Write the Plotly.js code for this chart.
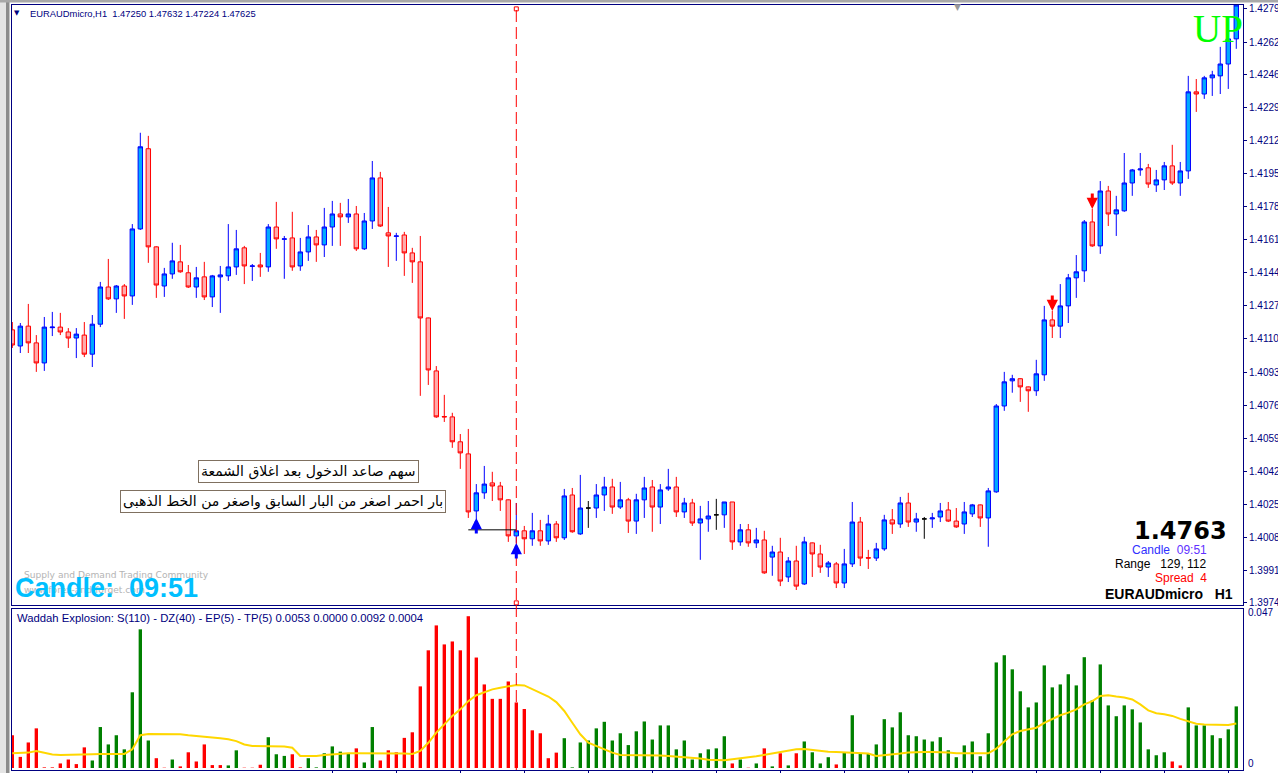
<!DOCTYPE html>
<html><head><meta charset="utf-8">
<script src="https://cdn.plot.ly/plotly-3.0.1.min.js"></script>
<style>html,body{margin:0;padding:0;background:#fff;overflow:hidden}#chart{width:1278px;height:773px}</style>
</head><body><div id="chart"></div><script>
// ---------- DATA ----------
const symbolName = "EURAUDmicro,H1";
const headerOHLC = "1.47250 1.47632 1.47224 1.47625";

const candleOpen = [
1.41147,1.41064,1.41166,1.41080,1.40977,1.41158,1.41161,1.41136,1.41105,1.41120,
1.41022,1.41176,1.41367,1.41306,1.41372,1.41321,1.41665,1.42077,1.41573,1.41372,
1.41434,1.41496,1.41440,1.41367,1.41419,1.41316,1.41419,1.41424,1.41470,1.41568,
1.41473,1.41480,1.41470,1.41675,1.41612,1.41619,1.41475,1.41547,1.41624,1.41583,
1.41675,1.41742,1.41727,1.41742,1.41563,1.41706,1.41927,1.41645,1.41627,1.41634,
1.41542,1.41496,1.41208,1.40936,1.40702,1.40700,1.40572,1.40510,1.40217,1.40310,
1.40361,1.40345,1.40274,1.40089,1.40115,1.40074,1.40115,1.40063,1.40150,1.40079,
1.40299,1.40099,1.40232,1.40232,1.40299,1.40340,1.40237,1.40274,1.40165,1.40274,
1.40340,1.40237,1.40330,1.40340,1.40212,1.40258,1.40155,1.40176,1.40197,1.40197,
1.40263,1.40058,1.40120,1.40053,1.40068,1.39980,1.40006,1.39878,1.39960,1.39842,
1.40053,1.39996,1.39929,1.39945,1.39847,1.39945,1.40160,1.39977,1.39975,1.40022,
1.40171,1.40150,1.40258,1.40160,1.40176,1.40176,1.40186,1.40222,1.40165,1.40150,
1.40202,1.40248,1.40181,1.40315,1.40756,1.40885,1.40896,1.40854,1.40834,1.40916,
1.41198,1.41166,1.41270,1.41414,1.41450,1.41701,1.41578,1.41860,1.41742,1.41758,
1.41901,1.41968,1.41979,1.41891,1.41917,1.41989,1.41901,1.41963,1.42369,1.42358,
1.42441,1.42451,1.42512,1.42641];
const candleHigh = [
1.41187,1.41182,1.41280,1.41120,1.41213,1.41239,1.41234,1.41156,1.41156,1.41187,
1.41223,1.41393,1.41511,1.41377,1.41382,1.41690,1.42159,1.42143,1.41576,1.41465,
1.41594,1.41583,1.41480,1.41470,1.41496,1.41429,1.41475,1.41690,1.41660,1.41578,
1.41485,1.41542,1.41690,1.41804,1.41629,1.41753,1.41619,1.41685,1.41660,1.41773,
1.41809,1.41799,1.41819,1.41783,1.41747,1.42014,1.41958,1.41778,1.41645,1.41650,
1.41568,1.41629,1.41210,1.40961,1.40813,1.40721,1.40612,1.40638,1.40355,1.40448,
1.40418,1.40366,1.40276,1.40258,1.40140,1.40207,1.40171,1.40197,1.40165,1.40330,
1.40335,1.40402,1.40268,1.40355,1.40392,1.40382,1.40366,1.40284,1.40305,1.40392,
1.40376,1.40355,1.40433,1.40392,1.40284,1.40279,1.40243,1.40268,1.40279,1.40263,
1.40263,1.40150,1.40150,1.40130,1.40115,1.40038,1.40079,1.39980,1.40038,1.40084,
1.40055,1.40043,1.39960,1.39955,1.40022,1.40263,1.40186,1.40017,1.40053,1.40197,
1.40227,1.40289,1.40310,1.40207,1.40186,1.40207,1.40258,1.40263,1.40232,1.40263,
1.40253,1.40250,1.40335,1.40766,1.40931,1.40916,1.40898,1.40856,1.40993,1.41270,
1.41244,1.41382,1.41434,1.41531,1.41711,1.41768,1.41911,1.41886,1.41835,1.42055,
1.41973,1.42055,1.41999,1.41968,1.42009,1.42097,1.42009,1.42451,1.42435,1.42451,
1.42477,1.42600,1.42656,1.42830];
const candleLow = [
1.41054,1.41028,1.41028,1.40931,1.40936,1.41115,1.41120,1.41054,1.41002,1.41007,
1.40956,1.41161,1.41300,1.41234,1.41203,1.41275,1.41660,1.41491,1.41311,1.41316,
1.41409,1.41440,1.41362,1.41311,1.41300,1.41264,1.41234,1.41398,1.41429,1.41382,
1.41398,1.41419,1.41445,1.41563,1.41409,1.41450,1.41450,1.41501,1.41496,1.41521,
1.41578,1.41578,1.41696,1.41552,1.41557,1.41665,1.41675,1.41470,1.41501,1.41424,
1.41388,1.40808,1.40864,1.40695,1.40674,1.40541,1.40433,1.40181,1.40176,1.40279,
1.40268,1.40217,1.40058,1.40053,1.39996,1.40038,1.40038,1.40043,1.40058,1.40068,
1.40105,1.40094,1.40130,1.40181,1.40217,1.40202,1.40227,1.40104,1.40099,1.40181,
1.40110,1.40150,1.40320,1.40186,1.40181,1.40140,1.39966,1.40110,1.40120,1.40130,
1.40017,1.40038,1.40033,1.40027,1.39894,1.39884,1.39831,1.39852,1.39811,1.39837,
1.39878,1.39899,1.39878,1.39821,1.39821,1.39929,1.39934,1.39919,1.39960,1.40012,
1.40099,1.40130,1.40135,1.40110,1.40074,1.40130,1.40160,1.40160,1.40130,1.40099,
1.40186,1.40135,1.40033,1.40310,1.40731,1.40824,1.40777,1.40726,1.40808,1.40885,
1.41105,1.41105,1.41182,1.41311,1.41393,1.41573,1.41537,1.41680,1.41629,1.41753,
1.41835,1.41938,1.41876,1.41855,1.41865,1.41891,1.41835,1.41922,1.42266,1.42333,
1.42348,1.42358,1.42384,1.42590];
const candleClose = [
1.41069,1.41166,1.41080,1.40977,1.41161,1.41161,1.41136,1.41105,1.41125,1.41022,
1.41176,1.41367,1.41306,1.41372,1.41321,1.41665,1.42087,1.41573,1.41377,1.41434,
1.41501,1.41445,1.41367,1.41414,1.41316,1.41424,1.41429,1.41470,1.41563,1.41475,
1.41475,1.41470,1.41675,1.41614,1.41614,1.41470,1.41547,1.41624,1.41583,1.41675,
1.41742,1.41727,1.41742,1.41563,1.41706,1.41927,1.41680,1.41629,1.41629,1.41542,
1.41496,1.41208,1.40941,1.40700,1.40700,1.40572,1.40515,1.40212,1.40310,1.40355,
1.40345,1.40274,1.40089,1.40115,1.40074,1.40115,1.40063,1.40150,1.40079,1.40294,
1.40110,1.40232,1.40232,1.40299,1.40340,1.40237,1.40274,1.40165,1.40274,1.40335,
1.40237,1.40325,1.40340,1.40212,1.40258,1.40155,1.40176,1.40191,1.40197,1.40263,
1.40058,1.40120,1.40053,1.40068,1.39899,1.40006,1.39857,1.39960,1.39831,1.40058,
1.39996,1.39929,1.39950,1.39847,1.39945,1.40160,1.39975,1.39975,1.40022,1.40171,
1.40150,1.40258,1.40160,1.40176,1.40176,1.40181,1.40217,1.40165,1.40135,1.40212,
1.40248,1.40181,1.40320,1.40756,1.40880,1.40896,1.40854,1.40834,1.40921,1.41198,
1.41166,1.41270,1.41414,1.41445,1.41701,1.41578,1.41860,1.41742,1.41763,1.41901,
1.41968,1.41973,1.41896,1.41917,1.41989,1.41901,1.41963,1.42369,1.42358,1.42441,
1.42456,1.42512,1.42641,1.42815];
const dojiBars = [72, 88, 114];

const priceLabels = ["1.42795","1.42625","1.42460","1.42290","1.42120","1.41950","1.41780","1.41610","1.41440","1.41270",
"1.41100","1.40930","1.40760","1.40590","1.40420","1.40250","1.40080","1.39910","1.39745"];
const timeTickBars = [40,48,56,64,72,80,88,96,104,112,120,128,136,144,152];

// arrow signals: bar index and price of the arrow tip
const buyArrowBars = [58, 63];
const buyArrowTip = [1.40181, 1.40053];
const sellArrowBars = [130, 135];
const sellArrowTip = [1.41244, 1.41768];
const entryLineBars = [57, 63];
const entryLinePrice = [1.40120, 1.40120];
const markerBar = 63;

const wadValues = [
0.0100,0.0034,0.0078,0.0121,0.0002,0.0002,0.0014,0.0026,0.0012,0.0063,
0.0023,0.0125,0.0072,0.0100,0.0057,0.0231,0.0423,0.0084,0.0030,0.0001,
0.0026,0.0005,0.0048,0.0020,0.0072,0.0009,0.0009,0.0008,0.0054,0.0001,
0.0001,0.0010,0.0094,0.0042,0.0037,0.0042,0.0002,0.0030,0.0002,0.0045,
0.0066,0.0050,0.0045,0.0060,0.0017,0.0125,0.0023,0.0054,0.0048,0.0092,
0.0109,0.0249,0.0359,0.0435,0.0377,0.0386,0.0359,0.0463,0.0337,0.0255,
0.0211,0.0211,0.0264,0.0200,0.0180,0.0115,0.0106,0.0030,0.0047,0.0091,
0.0002,0.0078,0.0084,0.0121,0.0141,0.0084,0.0106,0.0070,0.0112,0.0142,
0.0087,0.0130,0.0130,0.0057,0.0084,0.0026,0.0045,0.0057,0.0060,0.0097,
0.0014,0.0026,0.0001,0.0014,0.0060,0.0005,0.0045,0.0008,0.0045,0.0081,
0.0048,0.0014,0.0033,0.0011,0.0048,0.0161,0.0045,0.0045,0.0072,0.0149,
0.0124,0.0170,0.0100,0.0097,0.0087,0.0081,0.0094,0.0054,0.0033,0.0069,
0.0081,0.0036,0.0106,0.0322,0.0344,0.0301,0.0234,0.0185,0.0200,0.0313,
0.0246,0.0255,0.0286,0.0252,0.0338,0.0206,0.0316,0.0191,0.0158,0.0191,
0.0179,0.0139,0.0057,0.0039,0.0048,0.0020,0.0008,0.0185,0.0130,0.0130,
0.0100,0.0091,0.0118,0.0188];
const wadTrend = [
"r","r","r","r","r","r","r","r","r","r",
"g","g","g","g","g","g","g","g","r","r",
"g","r","r","r","r","r","r","g","g","r",
"r","r","g","g","g","r","r","g","g","g",
"g","g","g","r","g","g","r","r","r","r",
"r","r","r","r","r","r","r","r","r","r",
"r","r","r","r","r","r","r","r","r","g",
"g","g","g","g","g","g","g","g","g","g",
"g","g","g","g","g","g","g","g","g","g",
"r","g","r","g","r","g","r","g","r","g",
"g","g","g","r","g","g","g","g","g","g",
"g","g","g","g","g","g","g","g","g","g",
"g","g","g","g","g","g","g","g","g","g",
"g","g","g","g","g","g","g","g","g","g",
"g","g","g","g","g","r","r","g","g","g",
"g","g","g","g"];
const explosionLine = [
0.0045,0.0045,0.0047,0.0052,0.0047,0.0041,0.0040,0.0040,0.0040,0.0041,
0.0042,0.0043,0.0043,0.0043,0.0043,0.0057,0.0100,0.0104,0.0104,0.0104,
0.0104,0.0103,0.0100,0.0097,0.0095,0.0093,0.0091,0.0088,0.0082,0.0072,
0.0067,0.0067,0.0067,0.0067,0.0066,0.0062,0.0037,0.0037,0.0037,0.0040,
0.0042,0.0044,0.0045,0.0045,0.0045,0.0046,0.0046,0.0046,0.0045,0.0044,
0.0043,0.0052,0.0077,0.0108,0.0133,0.0159,0.0179,0.0204,0.0222,0.0232,
0.0240,0.0245,0.0250,0.0253,0.0252,0.0240,0.0228,0.0218,0.0201,0.0174,
0.0138,0.0103,0.0077,0.0067,0.0057,0.0047,0.0040,0.0040,0.0040,0.0039,
0.0038,0.0038,0.0037,0.0035,0.0034,0.0032,0.0029,0.0025,0.0024,0.0024,
0.0027,0.0029,0.0033,0.0036,0.0040,0.0045,0.0050,0.0054,0.0057,0.0058,
0.0055,0.0052,0.0050,0.0049,0.0048,0.0047,0.0046,0.0044,0.0037,0.0039,
0.0040,0.0044,0.0047,0.0049,0.0049,0.0049,0.0049,0.0047,0.0045,0.0045,
0.0045,0.0045,0.0045,0.0059,0.0082,0.0103,0.0113,0.0118,0.0123,0.0138,
0.0150,0.0161,0.0169,0.0179,0.0194,0.0204,0.0220,0.0222,0.0218,0.0215,
0.0209,0.0194,0.0176,0.0167,0.0164,0.0159,0.0150,0.0143,0.0135,0.0133,
0.0133,0.0131,0.0131,0.0136];
const wadAxisLabels = ["0", "0.047"];

// ---------- CHART ----------
const W = 1278, H = 773;
const px = v => v / W, py = v => 1 - v / H;
const NAVY = '#000080';
const bars = candleOpen.map((_, i) => i);
const mainIdx = bars.filter(i => !dojiBars.includes(i));
const pick = (arr, idx) => idx.map(i => arr[i]);

const traces = [
  {type:'candlestick', x:mainIdx, open:pick(candleOpen,mainIdx), high:pick(candleHigh,mainIdx),
   low:pick(candleLow,mainIdx), close:pick(candleClose,mainIdx), xaxis:'x', yaxis:'y',
   increasing:{line:{color:'#0000ff', width:1}, fillcolor:'#00aaff'},
   decreasing:{line:{color:'#ff0000', width:1}, fillcolor:'#ffaaaa'},
   whiskerwidth:0, hoverinfo:'none', showlegend:false},
  {type:'candlestick', x:dojiBars, open:pick(candleOpen,dojiBars), high:pick(candleHigh,dojiBars),
   low:pick(candleLow,dojiBars), close:pick(candleClose,dojiBars), xaxis:'x', yaxis:'y',
   increasing:{line:{color:'#000000', width:1}, fillcolor:'#000000'},
   decreasing:{line:{color:'#000000', width:1}, fillcolor:'#000000'},
   whiskerwidth:0, hoverinfo:'none', showlegend:false},
  {type:'scatter', mode:'lines', x:entryLineBars, y:entryLinePrice, xaxis:'x', yaxis:'y',
   line:{color:'#000000', width:1}, hoverinfo:'none', showlegend:false},
  {type:'scatter', mode:'markers', x:[markerBar, markerBar],
   y:[Number(priceLabels[0]), Number(priceLabels[priceLabels.length-1])],
   marker:{symbol:'square-open', size:4, color:'#ff0000', line:{width:1, color:'#ff0000'}},
   xaxis:'x', yaxis:'y', hoverinfo:'none', showlegend:false, cliponaxis:false},
  {type:'bar', x:bars, y:wadValues, width:0.42, xaxis:'x2', yaxis:'y2',
   marker:{color:wadTrend.map(t => t === 'g' ? '#008000' : '#ff0000'), line:{width:0}},
   hoverinfo:'none', showlegend:false},
  {type:'scatter', mode:'lines', x:bars, y:explosionLine, xaxis:'x2', yaxis:'y2',
   line:{color:'#ffd700', width:2}, hoverinfo:'none', showlegend:false}
];

const xDomain = [px(12), px(1243)];
const xRange = [-0.04, 153.84];
const axisFont = {family:'Liberation Sans, Arial, sans-serif', size:10, color:NAVY};

function note(text, x, y, opts) {
  return Object.assign({text:text, x:px(x), y:py(y), xref:'paper', yref:'paper', showarrow:false,
    xanchor:'left', yanchor:'middle', font:{family:'Liberation Sans, Arial, sans-serif', size:10, color:NAVY}}, opts || {});
}
const nb = s => s.replace(/ /g, '\u00a0');

function arrowNote(bar, price, color, dir) {
  return {x:bar, y:price, xref:'x', yref:'y', text:'', showarrow:true, ax:0, ay:dir * 17,
    arrowhead:2, arrowsize:0.75, arrowwidth:3, arrowcolor:color, standoff:0, startstandoff:0};
}

const annotations = [
  note('\u25BC', 17, 13, {xanchor:'center', font:{family:'DejaVu Sans', size:7, color:NAVY}}),
  note(nb(symbolName + '  ' + headerOHLC), 28, 13, {font:{family:'Liberation Sans, Arial, sans-serif', size:9.4, color:NAVY}}),
  note('\u25BC', 957, 7, {xanchor:'center', font:{family:'DejaVu Sans', size:9, color:'#9a9a9a'}}),
  note('Waddah Explosion: S(110) - DZ(40) - EP(5) - TP(5) 0.0053 0.0000 0.0092 0.0004', 15, 618,
    {font:{family:'Liberation Sans, Arial, sans-serif', size:11.3, color:NAVY}}),
  note('UP', 1191, 28, {font:{family:'Liberation Serif, Times New Roman, serif', size:39, color:'#00ff00'}}),
  note('سهم صاعد الدخول بعد اغلاق الشمعة', 308, 471, {xanchor:'center', bgcolor:'#ffffff',
    bordercolor:'#7f7060', borderwidth:1, borderpad:2, font:{family:'DejaVu Sans', size:14, color:'#000000'}}),
  note('بار احمر اصغر من البار السابق واصغر من الخط الذهبى', 283, 501, {xanchor:'center', bgcolor:'#ffffff',
    bordercolor:'#7f7060', borderwidth:1, borderpad:2, font:{family:'DejaVu Sans', size:14, color:'#000000'}}),
  note('Supply and Demand Trading Community', 22, 575, {font:{family:'DejaVu Sans', size:9.1, color:'#b4b4b4'}}),
  note('www.forex-and-forget.com', 22, 590, {font:{family:'DejaVu Sans', size:9.1, color:'#b4b4b4'}}),
  note('<b>' + nb('Candle:  09:51') + '</b>', 13, 588, {font:{family:'Liberation Sans, Arial, sans-serif', size:27, color:'#00bfff'}}),
  note('<b>1.4763</b>', 1229, 531, {xanchor:'right', font:{family:'DejaVu Sans', size:24, color:'#000000'}}),
  note('<span style="color:#3030ff">Candle</span>\u00a0\u00a0<span style="color:#6030ff">09:51</span>', 1209, 550,
    {xanchor:'right', font:{family:'Liberation Sans, Arial, sans-serif', size:12, color:'#3030ff'}}),
  note(nb('Range   129, 112'), 1209, 564, {xanchor:'right', font:{family:'Liberation Sans, Arial, sans-serif', size:12, color:'#000000'}}),
  note(nb('Spread  4'), 1209, 578, {xanchor:'right', font:{family:'Liberation Sans, Arial, sans-serif', size:12, color:'#ff0000'}}),
  note('<b>' + nb('EURAUDmicro   H1') + '</b>', 1235, 594, {xanchor:'right', font:{family:'Liberation Sans, Arial, sans-serif', size:14, color:'#000000'}})
];
buyArrowBars.forEach((b, k) => annotations.push(arrowNote(b, buyArrowTip[k], '#0000ff', 1)));
sellArrowBars.forEach((b, k) => annotations.push(arrowNote(b, sellArrowTip[k], '#ff0000', -1)));
wadAxisLabels.forEach(l => annotations.push({text:l, x:px(1246), xref:'paper', y:Number(l), yref:'y2',
  yshift:(Number(l) === 0 ? 5 : 1), showarrow:false, xanchor:'left', yanchor:'middle', font:axisFont}));

const layout = {
  width:W, height:H, margin:{l:0, r:0, t:0, b:0, pad:0},
  paper_bgcolor:'#ffffff', plot_bgcolor:'#ffffff', showlegend:false,
  boxgap:0.45, boxgroupgap:0,
  xaxis:{domain:xDomain, range:xRange, anchor:'y', showticklabels:false, showgrid:false, zeroline:false,
    showline:true, mirror:true, linecolor:NAVY, linewidth:1, ticks:'', rangeslider:{visible:false}, fixedrange:true},
  yaxis:{domain:[1-605/H, 1-5/H], range:[1.39734, 1.42815], side:'right', anchor:'x',
    tickvals:priceLabels.map(Number), ticktext:priceLabels, ticks:'outside', ticklen:3, tickcolor:NAVY,
    tickfont:axisFont, showline:true, mirror:true, linecolor:NAVY, linewidth:1, showgrid:false, zeroline:false, fixedrange:true},
  xaxis2:{domain:xDomain, range:xRange, anchor:'y2', showticklabels:false, tickvals:timeTickBars,
    ticks:'outside', ticklen:3, tickcolor:NAVY, showline:true, mirror:true, linecolor:NAVY, linewidth:1,
    showgrid:false, zeroline:false, fixedrange:true},
  yaxis2:{domain:[3/H, 164/H], range:[-0.0006, 0.0485], side:'right', anchor:'x2',
    showticklabels:false, ticks:'', showline:true, mirror:true, linecolor:NAVY, linewidth:1,
    showgrid:false, zeroline:false, fixedrange:true},
  shapes:[
    {type:'rect', xref:'paper', yref:'paper', x0:0, x1:px(6), y0:0, y1:1, fillcolor:'#e4e4e4', line:{width:0}},
    {type:'rect', xref:'paper', yref:'paper', x0:px(6), x1:px(9.5), y0:0, y1:1, fillcolor:'#8c8c8c', line:{width:0}},
    {type:'rect', xref:'paper', yref:'paper', x0:0, x1:1, y0:py(2.5), y1:1, fillcolor:'#a8a8a8', line:{width:0}},
    {type:'line', xref:'x', yref:'paper', x0:markerBar, x1:markerBar, y0:py(770), y1:py(5),
     line:{color:'#ff0000', width:1, dash:'12px,5px'}}
  ],
  annotations:annotations
};

Plotly.newPlot('chart', traces, layout, {displayModeBar:false, staticPlot:true});
</script></body></html>
